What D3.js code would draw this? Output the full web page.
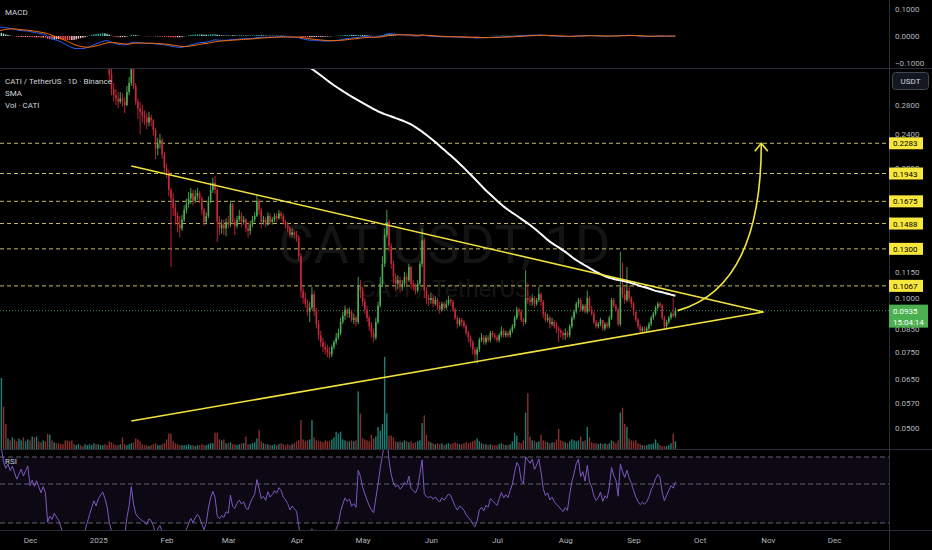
<!DOCTYPE html>
<html>
<head>
<meta charset="utf-8">
<title>CATI / TetherUS 1D</title>
<script src="https://cdn.jsdelivr.net/npm/d3@7"></script>
<style>
  html, body { margin: 0; padding: 0; background: #000; }
  svg { display: block; font-family: Roboto, "Noto Sans", sans-serif; }
</style>
</head>
<body>
<svg id="chart" width="932" height="550"></svg>
<script>
// daily closes from the listing day 2024-09-20 to 2024-12-31 (above the visible range, used by the indicators)
const closes2024 = [
  0.78, 0.66, 0.64, 0.68, 0.66, 0.63, 0.66, 0.67, 0.64, 0.62, 0.60,
  0.57, 0.56, 0.55, 0.56, 0.55, 0.53, 0.52, 0.51, 0.50, 0.49, 0.50, 0.48, 0.47, 0.46, 0.47, 0.45, 0.44, 0.43, 0.42, 0.41, 0.40, 0.39, 0.38, 0.37, 0.36, 0.35, 0.34, 0.33, 0.34, 0.33, 0.34,
  0.34, 0.36, 0.39, 0.42, 0.45, 0.48, 0.50, 0.52, 0.53, 0.54, 0.53, 0.54, 0.53, 0.55, 0.54, 0.55, 0.56, 0.57, 0.55, 0.54, 0.55, 0.54, 0.55, 0.54, 0.53, 0.54, 0.55, 0.54, 0.55, 0.56,
  0.53, 0.54, 0.53, 0.54, 0.53, 0.52, 0.53, 0.52, 0.45, 0.46, 0.45, 0.46, 0.45, 0.44, 0.42, 0.40, 0.38, 0.36, 0.35, 0.34, 0.33, 0.34, 0.35, 0.34, 0.33, 0.34, 0.35, 0.36, 0.37, 0.38, 0.37
];

// daily candles 2025-01-01 .. 2025-09-20 (open = previous close)
const closes2025 = [
  0.38, 0.385, 0.39, 0.38, 0.365, 0.33, 0.305, 0.295, 0.29, 0.285, 0.29, 0.285, 0.28, 0.30, 0.315, 0.345, 0.31, 0.285, 0.275, 0.27, 0.265, 0.262, 0.255, 0.262, 0.258, 0.245, 0.222, 0.228, 0.232, 0.215, 0.20,
  0.195, 0.178, 0.17, 0.162, 0.155, 0.148, 0.145, 0.152, 0.16, 0.165, 0.17, 0.175, 0.168, 0.172, 0.175, 0.17, 0.16, 0.15, 0.155, 0.168, 0.178, 0.185, 0.178, 0.15, 0.145, 0.148, 0.145, 0.15,
  0.148, 0.165, 0.15, 0.147, 0.152, 0.155, 0.15, 0.152, 0.145, 0.143, 0.148, 0.152, 0.155, 0.168, 0.16, 0.15, 0.152, 0.148, 0.155, 0.15, 0.152, 0.155, 0.153, 0.157, 0.155, 0.15, 0.148, 0.145, 0.14, 0.142, 0.14,
  0.138, 0.125, 0.104, 0.1, 0.097, 0.093, 0.095, 0.102, 0.093, 0.087, 0.082, 0.079, 0.077, 0.076, 0.075, 0.074, 0.077, 0.079, 0.081, 0.083, 0.088, 0.091, 0.094, 0.092, 0.093, 0.089, 0.09, 0.088, 0.107, 0.104,
  0.098, 0.094, 0.09, 0.086, 0.083, 0.081, 0.088, 0.096, 0.108, 0.12, 0.14, 0.15, 0.132, 0.12, 0.112, 0.108, 0.11, 0.106, 0.108, 0.112, 0.11, 0.118, 0.108, 0.106, 0.104, 0.108, 0.12, 0.136, 0.104, 0.1, 0.099,
  0.1, 0.097, 0.099, 0.096, 0.094, 0.097, 0.095, 0.097, 0.099, 0.098, 0.094, 0.09, 0.087, 0.089, 0.088, 0.086, 0.083, 0.081, 0.079, 0.076, 0.074, 0.076, 0.08, 0.081, 0.079, 0.081, 0.08, 0.083, 0.082, 0.081,
  0.08, 0.082, 0.084, 0.082, 0.083, 0.082, 0.084, 0.086, 0.09, 0.094, 0.093, 0.089, 0.088, 0.1, 0.099, 0.098, 0.1, 0.097, 0.099, 0.102, 0.098, 0.092, 0.089, 0.09, 0.087, 0.088, 0.086, 0.085, 0.084, 0.083, 0.082,
  0.083, 0.082, 0.086, 0.09, 0.093, 0.097, 0.099, 0.094, 0.096, 0.093, 0.1, 0.094, 0.092, 0.088, 0.086, 0.087, 0.089, 0.085, 0.087, 0.086, 0.09, 0.099, 0.096, 0.094, 0.087, 0.106, 0.102, 0.099, 0.104, 0.1, 0.097,
  0.093, 0.089, 0.086, 0.084, 0.085, 0.084, 0.085, 0.087, 0.09, 0.092, 0.095, 0.097, 0.096, 0.09, 0.086, 0.088, 0.09, 0.092, 0.091, 0.0935
];
const highs2025 = [
  0.39, 0.395, 0.40, 0.395, 0.385, 0.37, 0.34, 0.315, 0.305, 0.30, 0.30, 0.298, 0.292, 0.31, 0.325, 0.37, 0.35, 0.315, 0.29, 0.285, 0.28, 0.272, 0.268, 0.27, 0.266, 0.26, 0.248, 0.235, 0.24, 0.235, 0.218,
  0.205, 0.198, 0.18, 0.175, 0.166, 0.158, 0.155, 0.156, 0.164, 0.17, 0.176, 0.18, 0.178, 0.178, 0.18, 0.177, 0.172, 0.162, 0.158, 0.172, 0.185, 0.19, 0.192, 0.18, 0.155, 0.152, 0.152, 0.153,
  0.155, 0.168, 0.166, 0.153, 0.155, 0.16, 0.158, 0.155, 0.153, 0.15, 0.151, 0.155, 0.158, 0.174, 0.17, 0.162, 0.155, 0.154, 0.158, 0.157, 0.154, 0.157, 0.157, 0.16, 0.159, 0.157, 0.152, 0.15, 0.147, 0.145, 0.144,
  0.143, 0.14, 0.127, 0.106, 0.103, 0.099, 0.098, 0.106, 0.104, 0.095, 0.089, 0.084, 0.081, 0.079, 0.078, 0.077, 0.078, 0.08, 0.083, 0.085, 0.09, 0.093, 0.096, 0.095, 0.095, 0.094, 0.092, 0.091, 0.112, 0.11,
  0.106, 0.1, 0.096, 0.091, 0.088, 0.085, 0.09, 0.098, 0.112, 0.125, 0.145, 0.16, 0.152, 0.134, 0.122, 0.114, 0.113, 0.112, 0.11, 0.115, 0.114, 0.12, 0.119, 0.11, 0.108, 0.11, 0.122, 0.145, 0.138, 0.106, 0.102,
  0.103, 0.102, 0.101, 0.1, 0.098, 0.098, 0.098, 0.099, 0.101, 0.1, 0.099, 0.095, 0.091, 0.09, 0.09, 0.089, 0.087, 0.084, 0.082, 0.08, 0.077, 0.077, 0.081, 0.083, 0.082, 0.082, 0.082, 0.084, 0.084, 0.083,
  0.082, 0.083, 0.086, 0.085, 0.084, 0.084, 0.085, 0.087, 0.091, 0.0955, 0.095, 0.094, 0.09, 0.116, 0.108, 0.101, 0.102, 0.101, 0.1, 0.106, 0.103, 0.099, 0.093, 0.092, 0.091, 0.09, 0.089, 0.088, 0.086, 0.085, 0.084,
  0.085, 0.084, 0.087, 0.091, 0.094, 0.098, 0.1, 0.1, 0.097, 0.097, 0.104, 0.101, 0.096, 0.093, 0.089, 0.088, 0.09, 0.089, 0.088, 0.088, 0.091, 0.1, 0.1, 0.097, 0.095, 0.128, 0.121, 0.106, 0.118, 0.107, 0.101,
  0.098, 0.093, 0.09, 0.087, 0.086, 0.086, 0.086, 0.088, 0.091, 0.093, 0.096, 0.098, 0.098, 0.097, 0.091, 0.089, 0.091, 0.093, 0.1, 0.095
];
const lows2025 = [
  0.37, 0.375, 0.38, 0.37, 0.355, 0.32, 0.295, 0.285, 0.28, 0.275, 0.282, 0.278, 0.268, 0.278, 0.295, 0.31, 0.305, 0.28, 0.26, 0.24, 0.255, 0.252, 0.246, 0.25, 0.25, 0.238, 0.21, 0.214, 0.222, 0.21, 0.195,
  0.19, 0.172, 0.118, 0.155, 0.148, 0.142, 0.138, 0.143, 0.15, 0.157, 0.162, 0.165, 0.164, 0.166, 0.169, 0.166, 0.156, 0.147, 0.148, 0.153, 0.166, 0.175, 0.174, 0.135, 0.14, 0.141, 0.14, 0.139,
  0.145, 0.146, 0.148, 0.14, 0.145, 0.15, 0.146, 0.148, 0.142, 0.138, 0.14, 0.146, 0.15, 0.154, 0.156, 0.145, 0.148, 0.146, 0.147, 0.148, 0.148, 0.15, 0.15, 0.152, 0.152, 0.148, 0.145, 0.142, 0.138, 0.138, 0.137,
  0.135, 0.122, 0.1, 0.097, 0.095, 0.091, 0.088, 0.094, 0.091, 0.085, 0.08, 0.077, 0.075, 0.074, 0.073, 0.0725, 0.073, 0.076, 0.078, 0.08, 0.082, 0.087, 0.089, 0.09, 0.09, 0.088, 0.087, 0.086, 0.087, 0.1,
  0.096, 0.092, 0.088, 0.084, 0.081, 0.079, 0.08, 0.087, 0.095, 0.106, 0.118, 0.138, 0.128, 0.117, 0.108, 0.104, 0.105, 0.103, 0.104, 0.106, 0.107, 0.109, 0.105, 0.104, 0.102, 0.103, 0.107, 0.118, 0.1, 0.097, 0.096,
  0.097, 0.095, 0.096, 0.094, 0.092, 0.093, 0.094, 0.094, 0.096, 0.096, 0.093, 0.089, 0.085, 0.086, 0.086, 0.085, 0.082, 0.079, 0.077, 0.074, 0.0715, 0.0705, 0.075, 0.079, 0.078, 0.078, 0.079, 0.079, 0.081, 0.08,
  0.079, 0.079, 0.081, 0.081, 0.081, 0.081, 0.081, 0.083, 0.085, 0.089, 0.091, 0.088, 0.086, 0.087, 0.097, 0.096, 0.096, 0.095, 0.096, 0.098, 0.096, 0.09, 0.088, 0.088, 0.085, 0.086, 0.085, 0.083, 0.079, 0.081, 0.08,
  0.08, 0.081, 0.081, 0.085, 0.089, 0.092, 0.095, 0.093, 0.093, 0.092, 0.092, 0.093, 0.091, 0.087, 0.085, 0.085, 0.086, 0.084, 0.084, 0.085, 0.085, 0.089, 0.095, 0.093, 0.086, 0.086, 0.1, 0.097, 0.098, 0.098, 0.095,
  0.091, 0.088, 0.085, 0.083, 0.083, 0.083, 0.083, 0.084, 0.086, 0.089, 0.091, 0.094, 0.095, 0.089, 0.085, 0.085, 0.087, 0.089, 0.09, 0.09
];

// daily volume (M CATI) 2024-11-18 .. 2025-09-20
const volumes = [
  296, 176, 104, 44, 36, 48, 40, 32, 44, 36, 48, 32, 40,
  36, 52, 48, 52, 32, 28, 36, 32, 64, 60, 36, 28, 24, 24, 20, 20, 36, 36, 32, 36, 20, 16, 20, 16, 12, 20, 16, 20, 16, 24, 20,
  20, 16, 16, 20, 16, 32, 28, 20, 16, 16, 20, 48, 20, 16, 20, 24, 28, 44, 40, 32, 20, 16, 16, 12, 16, 20, 24, 16, 16, 20, 24,
  40, 64, 64, 32, 24, 20, 16, 16, 16, 16, 20, 16, 16, 12, 16, 16, 20, 16, 16, 20, 24, 24, 68, 68, 40, 36, 40, 24,
  24, 28, 20, 20, 16, 20, 24, 24, 52, 20, 20, 24, 28, 44, 80, 32, 24, 20, 20, 16, 16, 20, 16, 20, 24, 20, 16, 20, 16, 20, 24,
  32, 36, 120, 40, 32, 36, 40, 120, 48, 36, 32, 32, 28, 36, 32, 32, 40, 48, 72, 64, 72, 40, 36, 32, 32, 36, 32, 36, 240, 148,
  44, 40, 36, 32, 60, 44, 52, 92, 76, 104, 384, 148, 56, 56, 48, 32, 28, 32, 28, 36, 32, 28, 32, 24, 28, 32, 36, 108, 140, 60, 32,
  28, 24, 20, 24, 20, 24, 16, 20, 24, 20, 24, 28, 24, 20, 20, 24, 28, 24, 28, 32, 36, 44, 32, 24, 20, 20, 16, 20, 16, 16,
  16, 20, 24, 20, 16, 16, 20, 32, 68, 56, 28, 24, 36, 152, 232, 52, 36, 32, 28, 32, 60, 36, 32, 28, 24, 28, 28, 40, 84, 36, 32,
  28, 24, 32, 40, 36, 32, 36, 52, 32, 36, 92, 48, 28, 24, 24, 20, 24, 20, 24, 20, 24, 36, 32, 24, 36, 152, 172, 104, 92, 44, 36,
  32, 36, 24, 20, 16, 16, 16, 20, 20, 24, 40, 24, 16, 12, 12, 12, 16, 24, 64, 32
];

const levels = [0.2283, 0.1943, 0.1675, 0.1488, 0.1300, 0.1067];
const lastPrice = 0.0935;
const countdown = "15:04:14";
const priceTicks = [0.28, 0.24, 0.20, 0.115, 0.10, 0.085, 0.075, 0.065, 0.057, 0.05];
const macdTicks = [0.1, 0, -0.1];
const rsiTicks = [60, 40, 28];
const rsiBands = [65.5, 52, 32.5];
const monthTicks = ["2024-12-01", "2025-01-01", "2025-02-01", "2025-03-01", "2025-04-01", "2025-05-01", "2025-06-01",
  "2025-07-01", "2025-08-01", "2025-09-01", "2025-10-01", "2025-11-01", "2025-12-01"];
// drawings: [date, price]
const upperTrend = [["2025-01-16", 0.2023], ["2025-10-30", 0.0928]];
const lowerTrend = [["2025-01-16", 0.0519], ["2025-10-30", 0.0928]];
const arrowCurve = [["2025-09-21", 0.0935], ["2025-10-29", 0.106], ["2025-10-29", 0.2283]];

const parse = d3.utcParse("%Y-%m-%d");
const DAY = 864e5;
const t0 = parse("2024-09-20");
const closes = closes2024.concat(closes2025);
const dateAt = i => new Date(+t0 + i * DAY);
const c0 = closes2024.length;
const v0 = Math.round((parse("2024-11-18") - t0) / DAY);

const W = 932, H = 550, plotR = 889;
const x = d3.scaleUtc().domain([parse("2024-12-01"), parse("2025-12-01")]).range([30, 834]);
const y = d3.scaleLog().domain([0.05, 0.28]).range([428, 105]);
const yVol = d3.scaleLinear().domain([0, 400]).range([449, 353]);
const yMacd = d3.scaleLinear().domain([-0.1, 0.1]).range([62.7, 9.3]);
const yRsi = d3.scaleLinear().domain([40, 60]).range([508, 468]);

// indicators, computed from the closes the way the chart does
function ema(vals, n) {
  const k = 2 / (n + 1);
  let e = vals[0];
  return vals.map((v, i) => (e = i === 0 ? v : v * k + e * (1 - k)));
}
const sma = closes.map((_, i) => i < 199 ? null : d3.mean(closes.slice(i - 199, i + 1)));
const e12 = ema(closes, 12), e26 = ema(closes, 26);
const macd = closes.map((_, i) => e12[i] - e26[i]);
const signal = ema(macd, 9);
const hist = macd.map((v, i) => v - signal[i]);
const rsi = (() => {
  const n = 14, out = closes.map(() => null);
  let ag = 0, al = 0;
  for (let i = 1; i < closes.length; i++) {
    const ch = closes[i] - closes[i - 1];
    const g = Math.max(ch, 0), l = Math.max(-ch, 0);
    if (i <= n) { ag += g / n; al += l / n; if (i === n) out[i] = 100 - 100 / (1 + ag / al); }
    else {
      ag = (ag * (n - 1) + g) / n; al = (al * (n - 1) + l) / n;
      out[i] = al === 0 ? 100 : 100 - 100 / (1 + ag / al);
    }
  }
  return out;
})();

const svg = d3.select("#chart");
const defs = svg.append("defs");
function clip(id, y0, y1) {
  defs.append("clipPath").attr("id", id).append("rect")
    .attr("x", 0).attr("y", y0).attr("width", plotR).attr("height", y1 - y0);
  return `url(#${id})`;
}
const clipMacd = clip("c-macd", 0, 68), clipMain = clip("c-main", 68, 449), clipRsi = clip("c-rsi", 449, 530);
defs.append("clipPath").attr("id", "c-rsiax").append("rect").attr("x", plotR).attr("y", 449).attr("width", 43).attr("height", 81);

svg.append("rect").attr("width", W).attr("height", H).attr("fill", "#000");

const UP = "#4caf50", DOWN = "#c8283c";
const gray = "#b2b5be";

// ---- main pane ----
const main = svg.append("g").attr("clip-path", clipMain);

// watermark
main.append("text").attr("x", plotR / 2).attr("y", 263).attr("text-anchor", "middle")
  .attr("font-size", 54).attr("fill", "#fff").attr("opacity", 0.08).text("CATIUSDT, 1D");
main.append("text").attr("x", plotR / 2).attr("y", 297).attr("text-anchor", "middle")
  .attr("font-size", 24).attr("fill", "#fff").attr("opacity", 0.08).text("CATI / TetherUS");

// horizontal levels
main.selectAll("line.level").data(levels).join("line").attr("class", "level")
  .attr("x1", 0).attr("x2", plotR).attr("y1", d => y(d)).attr("y2", d => y(d))
  .attr("stroke", "#e6df6e").attr("stroke-width", 1).attr("stroke-dasharray", "4,3").attr("opacity", 0.85);

// last price line
main.append("line").attr("x1", 0).attr("x2", plotR).attr("y1", y(lastPrice)).attr("y2", y(lastPrice))
  .attr("stroke", "#3d8f55").attr("stroke-dasharray", "1,2").attr("stroke-width", 1);

// volume
const volIdx = d3.range(volumes.length);
main.selectAll("rect.vol").data(volIdx).join("rect").attr("class", "vol")
  .attr("x", i => x(dateAt(v0 + i)) - 0.7).attr("width", 1.4)
  .attr("y", i => yVol(volumes[i])).attr("height", i => yVol(0) - yVol(volumes[i]))
  .attr("fill", i => closes[v0 + i] >= closes[v0 + i - 1] ? "#1f7f74" : "#8a2f2d");

// candles
const cIdx = d3.range(c0, closes.length);
const candle = main.selectAll("g.candle").data(cIdx).join("g").attr("class", "candle");
candle.each(function (i) {
  const g = d3.select(this);
  const o = closes[i - 1], c = closes[i], h = highs2025[i - c0], l = lows2025[i - c0];
  const col = c >= o ? UP : DOWN;
  const cx = x(dateAt(i));
  g.append("line").attr("x1", cx).attr("x2", cx).attr("y1", y(h)).attr("y2", y(l))
    .attr("stroke", col).attr("stroke-width", 0.9);
  const top = y(Math.max(o, c)), bot = y(Math.min(o, c));
  g.append("rect").attr("x", cx - 0.8).attr("width", 1.6).attr("y", top)
    .attr("height", Math.max(0.8, bot - top)).attr("fill", col);
});

// SMA 200
main.append("path")
  .datum(d3.range(closes.length).filter(i => sma[i] != null))
  .attr("fill", "none").attr("stroke", "#fff").attr("stroke-width", 2)
  .attr("d", d3.line().x(i => x(dateAt(i))).y(i => y(sma[i])));

// triangle and arrow
const pt = d => [x(parse(d[0])), y(d[1])];
const YEL = "#f2e33c";
[upperTrend, lowerTrend].forEach(tl => {
  main.append("line").attr("x1", pt(tl[0])[0]).attr("y1", pt(tl[0])[1])
    .attr("x2", pt(tl[1])[0]).attr("y2", pt(tl[1])[1])
    .attr("stroke", YEL).attr("stroke-width", 1.6);
});
const [a0, a1, a2] = arrowCurve.map(pt);
const arrow = d3.path();
arrow.moveTo(a0[0], a0[1]);
arrow.quadraticCurveTo(a1[0], a1[1], a2[0], a2[1]);
main.append("path").attr("d", arrow.toString()).attr("fill", "none").attr("stroke", YEL).attr("stroke-width", 1.6);
main.append("path").attr("d", `M${a2[0] - 6.5},${a2[1] + 8}L${a2[0]},${a2[1]}L${a2[0] + 6.5},${a2[1] + 8}`)
  .attr("fill", "none").attr("stroke", YEL).attr("stroke-width", 1.6);

// legend
const legend = svg.append("g").attr("font-size", 8).attr("fill", "#d1d4dc");
legend.append("text").attr("x", 5).attr("y", 84).text("CATI / TetherUS · 1D · Binance");
legend.append("text").attr("x", 5).attr("y", 96).text("SMA");
legend.append("text").attr("x", 5).attr("y", 108).text("Vol · CATI");
legend.append("text").attr("x", 5).attr("y", 15).text("MACD");
legend.append("text").attr("x", 5).attr("y", 464).text("RSI");

// ---- MACD pane ----
const mp = svg.append("g").attr("clip-path", clipMacd);
const histColor = (v, p) => v >= 0 ? (v > p ? "#26a69a" : "#b2dfdb") : (v < p ? "#ff5252" : "#ffcdd2");
mp.selectAll("rect.h").data(d3.range(1, closes.length)).join("rect").attr("class", "h")
  .attr("x", i => x(dateAt(i)) - 0.7).attr("width", 1.4)
  .attr("y", i => Math.min(yMacd(hist[i]), yMacd(0)))
  .attr("height", i => Math.abs(yMacd(hist[i]) - yMacd(0)))
  .attr("fill", i => histColor(hist[i], hist[i - 1]));
const idxAll = d3.range(closes.length);
mp.append("path").datum(idxAll).attr("fill", "none").attr("stroke", "#2962ff").attr("stroke-width", 1)
  .attr("d", d3.line().x(i => x(dateAt(i))).y(i => yMacd(macd[i])));
mp.append("path").datum(idxAll).attr("fill", "none").attr("stroke", "#ff6d00").attr("stroke-width", 1)
  .attr("d", d3.line().x(i => x(dateAt(i))).y(i => yMacd(signal[i])));

// ---- RSI pane ----
const rp = svg.append("g").attr("clip-path", clipRsi);
rp.append("rect").attr("x", 0).attr("width", plotR)
  .attr("y", yRsi(rsiBands[0])).attr("height", yRsi(rsiBands[2]) - yRsi(rsiBands[0]))
  .attr("fill", "#7e57c2").attr("opacity", 0.1);
rp.selectAll("line.band").data(rsiBands).join("line").attr("class", "band")
  .attr("x1", 0).attr("x2", plotR).attr("y1", d => yRsi(d)).attr("y2", d => yRsi(d))
  .attr("stroke", "#787b86").attr("stroke-dasharray", "5,3").attr("opacity", 0.8);
rp.append("path").datum(idxAll.filter(i => rsi[i] != null)).attr("fill", "none")
  .attr("stroke", "#7e57c2").attr("stroke-width", 1)
  .attr("d", d3.line().x(i => x(dateAt(i))).y(i => yRsi(rsi[i])));

// ---- separators ----
[68.5, 449.5, 530.5].forEach(v => svg.append("line").attr("x1", 0).attr("x2", W).attr("y1", v).attr("y2", v)
  .attr("stroke", "#2a2e39"));
svg.append("line").attr("x1", plotR + 0.5).attr("x2", plotR + 0.5).attr("y1", 0).attr("y2", H).attr("stroke", "#2a2e39");

// ---- axes ----
function styleAxis(g) {
  g.select(".domain").remove();
  g.attr("font-family", null).attr("font-size", 8);
  g.selectAll("text").attr("fill", gray);
}
svg.append("g").attr("transform", `translate(${plotR},0)`)
  .call(d3.axisRight(y).tickValues(priceTicks).tickFormat(d3.format(".4f")).tickSize(0).tickPadding(6))
  .call(styleAxis);
svg.append("g").attr("transform", `translate(${plotR},0)`)
  .call(d3.axisRight(yMacd).tickValues(macdTicks).tickFormat(d3.format(".4f")).tickSize(0).tickPadding(6))
  .call(styleAxis);
svg.append("g").attr("transform", `translate(${plotR},0)`).attr("clip-path", "url(#c-rsiax)")
  .call(d3.axisRight(yRsi).tickValues(rsiTicks).tickFormat(d3.format(".2f")).tickSize(0).tickPadding(6))
  .call(styleAxis);
svg.append("g").attr("transform", "translate(0,530)")
  .call(d3.axisBottom(x).tickValues(monthTicks.map(parse)).tickSize(0).tickPadding(7)
    .tickFormat(d => d.getUTCMonth() === 0 ? String(d.getUTCFullYear()) : d3.utcFormat("%b")(d)))
  .call(styleAxis);

// USDT box
svg.append("rect").attr("x", 892.5).attr("y", 72.5).attr("width", 36).attr("height", 17).attr("rx", 3)
  .attr("fill", "#131722").attr("stroke", "#434651");
svg.append("text").attr("x", 910.5).attr("y", 84).attr("text-anchor", "middle").attr("font-size", 8)
  .attr("fill", "#d1d4dc").text("USDT");

// level labels
const lab = svg.selectAll("g.lab").data(levels).join("g").attr("class", "lab")
  .attr("transform", d => `translate(${plotR},${y(d)})`);
lab.append("rect").attr("x", 0).attr("y", -6).attr("width", 34).attr("height", 12).attr("fill", "#f7e63b");
lab.append("text").attr("x", 4).attr("y", 3).attr("font-size", 8).attr("fill", "#000").text(d => d.toFixed(4));

// last price label
const lp = svg.append("g").attr("transform", `translate(${plotR},${y(lastPrice)})`);
lp.append("rect").attr("x", 0).attr("y", -6).attr("width", 39).attr("height", 23).attr("fill", "#4caf50");
lp.append("text").attr("x", 4).attr("y", 3).attr("font-size", 8).attr("fill", "#fff").text(lastPrice.toFixed(4));
lp.append("text").attr("x", 4).attr("y", 14).attr("font-size", 8).attr("fill", "#fff").text(countdown);
</script>
</body>
</html>
